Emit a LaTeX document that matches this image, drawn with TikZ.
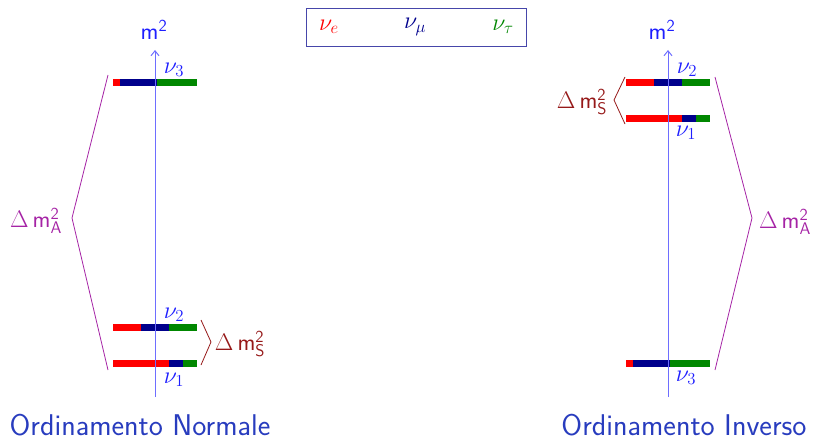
\RequirePackage{fix-cm}
\documentclass[tikz,border=0pt]{standalone}
\usetikzlibrary{arrows.meta}
\definecolor{nred}{RGB}{255,0,0}
\definecolor{nnavy}{RGB}{0,0,140}
\definecolor{ngreen}{RGB}{0,135,0}
\definecolor{axisblue}{RGB}{110,110,255}
\definecolor{lblue}{RGB}{30,30,255}
\definecolor{tblue}{RGB}{40,60,190}
\definecolor{dred}{RGB}{150,25,25}
\definecolor{purp}{RGB}{165,35,165}
\definecolor{boxblue}{RGB}{70,70,170}
\newcommand{\dmq}[1]{$\Delta\,$\textsf{m}$^{\mathsf{2}}_{\mathsf{#1}}$}
\newcommand{\mybar}[5]{% y, x0, x1 (red end), x2 (blue end), x3
  \fill[nred] (#2,#1-3.5) rectangle (#3,#1+3.5);
  \fill[nnavy] (#3,#1-3.5) rectangle (#4,#1+3.5);
  \fill[ngreen] (#4,#1-3.5) rectangle (#5,#1+3.5);}
\begin{document}
\begin{tikzpicture}[x=1pt,y=-1pt,font=\fontsize{24}{29}\selectfont\sffamily,
  axisline/.style={draw=axisblue,line width=1pt,-{Straight Barb[length=5pt,width=8pt]}},
  nulbl/.style={text=lblue,inner sep=0pt},
  purpline/.style={draw=purp,line width=0.8pt},
  redline/.style={draw=dred,line width=0.8pt},
  ordname/.style={text=tblue,font=\fontsize{30}{36}\selectfont\sffamily}]
\useasboundingbox (0,0) rectangle (814,441);
% legend
\node[draw=boxblue,line width=0.8pt,minimum width=220pt,minimum height=38pt,inner sep=0pt] (legend) at (416,27) {};
\node[text=nred] (le) at (329,27) {$\nu_e$};
\node[text=nnavy] (lm) at (415,27) {$\nu_\mu$};
\node[text=ngreen] (lt) at (503,27) {$\nu_\tau$};
% ---------------- left: normal ordering
\coordinate (La0) at (155,397);
\coordinate (La1) at (155,50);
\mybar{83}{113}{120}{157}{197}
\mybar{327}{113}{141}{169}{197}
\mybar{363}{113}{169}{183}{197}
\draw[axisline] (La0) -- (La1);
\node[text=lblue,inner sep=0pt] (Lm) at (154,30) {m$^{\mathsf{2}}$};
\node[nulbl] (Ln3) at (174,70) {$\nu_3$};
\node[nulbl] (Ln2) at (174,315) {$\nu_2$};
\node[nulbl] (Ln1) at (174,380) {$\nu_1$};
\coordinate (LAt) at (108,75);
\coordinate (LAm) at (72,218);
\coordinate (LAb) at (108,370);
\draw[purpline] (LAt) -- (LAm) -- (LAb);
\node[text=purp,inner sep=0pt] (LA) at (36,221) {\dmq{A}};
\coordinate (LSt) at (201,320);
\coordinate (LSm) at (211,342);
\coordinate (LSb) at (201,365);
\draw[redline] (LSt) -- (LSm) -- (LSb);
\node[text=dred,inner sep=0pt] (LS) at (240,344) {\dmq{S}};
\node[ordname] (Lname) at (140,425) {Ordinamento Normale};
% ---------------- right: inverted ordering
\coordinate (Ra0) at (668,397);
\coordinate (Ra1) at (668,50);
\mybar{83}{626}{654}{682}{710}
\mybar{119}{626}{682}{696}{710}
\mybar{363}{626}{633}{670}{710}
\draw[axisline] (Ra0) -- (Ra1);
\node[text=lblue,inner sep=0pt] (Rm) at (662,30) {m$^{\mathsf{2}}$};
\node[nulbl] (Rn2) at (687,70) {$\nu_2$};
\node[nulbl] (Rn1) at (686,133) {$\nu_1$};
\node[nulbl] (Rn3) at (686,378) {$\nu_3$};
\coordinate (RSt) at (625,77);
\coordinate (RSm) at (614,100);
\coordinate (RSb) at (625,124);
\draw[redline] (RSt) -- (RSm) -- (RSb);
\node[text=dred,inner sep=0pt] (RS) at (582,102) {\dmq{S}};
\coordinate (RAt) at (715,77);
\coordinate (RAm) at (752,218);
\coordinate (RAb) at (715,370);
\draw[purpline] (RAt) -- (RAm) -- (RAb);
\node[text=purp,inner sep=0pt] (RA) at (785,222) {\dmq{A}};
\node[ordname] (Rname) at (684,425) {Ordinamento Inverso};
\end{tikzpicture}
\end{document}
